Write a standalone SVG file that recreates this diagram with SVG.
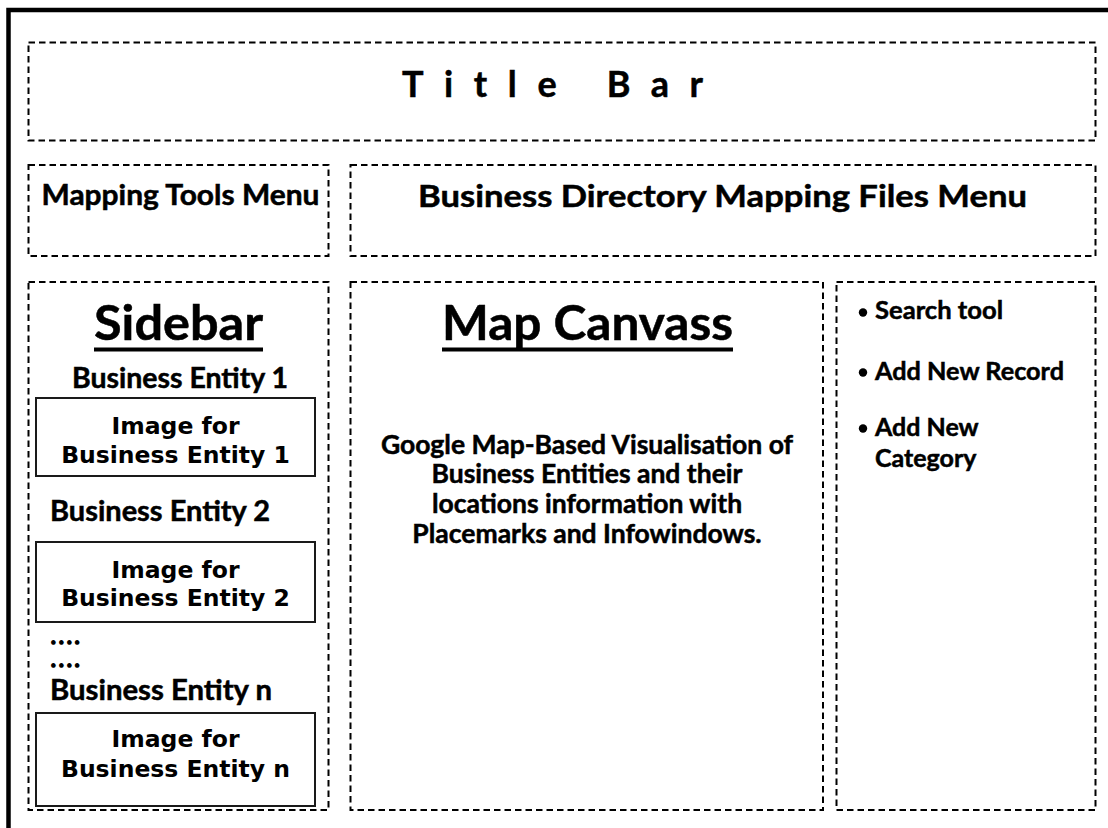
<svg xmlns="http://www.w3.org/2000/svg" width="1108" height="828" viewBox="0 0 1108 828">
  <style>
    .panel { fill: none; stroke: #000; stroke-width: 2; stroke-dasharray: 6.5 4; }
    .imgbox { fill: #fff; stroke: #1a1a1a; stroke-width: 2; }
    .frame { fill: none; stroke: #000; stroke-width: 4.5; }
    .cal { font-family: Lato, "Open Sans", "Liberation Sans", sans-serif; font-weight: bold; fill: #000; stroke: #000; stroke-width: 0.5; }
    .ver { font-family: "DejaVu Sans", Verdana, sans-serif; font-weight: bold; fill: #000; font-size: 23.5px; }
    .uline { stroke: #000; stroke-width: 4; }
    .dots { font-size: 20px; letter-spacing: 3.2px; stroke-width: 1.6; }
  </style>

  <rect width="1108" height="828" fill="#fff"/>

  <!-- outer page frame (top and left edges) -->
  <path class="frame" d="M 8.5 828 V 10 H 1108"/>

  <!-- title bar -->
  <g id="title-bar">
    <rect class="panel" x="28.5" y="42.5" width="1067" height="98"/>
    <text class="cal" x="402" y="97" font-size="36" stroke-width="0.9" textLength="301" lengthAdjust="spacing">Title Bar</text>
  </g>

  <!-- menus -->
  <g id="mapping-tools-menu">
    <rect class="panel" x="28.5" y="165" width="300" height="91"/>
    <text class="cal" x="41.5" y="205" font-size="28" textLength="278" lengthAdjust="spacingAndGlyphs">Mapping Tools Menu</text>
  </g>
  <g id="files-menu">
    <rect class="panel" x="350.5" y="165" width="745" height="91"/>
    <text class="cal" x="418" y="207" font-size="31" textLength="609" lengthAdjust="spacingAndGlyphs">Business Directory Mapping Files Menu</text>
  </g>

  <!-- sidebar -->
  <g id="sidebar">
    <rect class="panel" x="28.5" y="282" width="300" height="528"/>
    <text class="cal" x="94" y="340" font-size="48" textLength="169" lengthAdjust="spacingAndGlyphs">Sidebar</text>
    <line class="uline" x1="94" y1="349.5" x2="263" y2="349.5"/>

    <text class="cal" x="72" y="388" font-size="28" textLength="216" lengthAdjust="spacingAndGlyphs">Business Entity 1</text>
    <rect class="imgbox" x="36" y="398" width="279" height="78"/>
    <text class="ver" x="175.5" y="434" text-anchor="middle">Image for</text>
    <text class="ver" x="175.5" y="463" text-anchor="middle">Business Entity 1</text>

    <text class="cal" x="50" y="521" font-size="28" textLength="220" lengthAdjust="spacingAndGlyphs">Business Entity 2</text>
    <rect class="imgbox" x="36" y="542" width="279" height="80"/>
    <text class="ver" x="175.5" y="578" text-anchor="middle">Image for</text>
    <text class="ver" x="175.5" y="606" text-anchor="middle">Business Entity 2</text>

    <text class="cal dots" x="51" y="644">....</text>
    <text class="cal dots" x="51" y="667">....</text>

    <text class="cal" x="50" y="700" font-size="28" textLength="222" lengthAdjust="spacingAndGlyphs">Business Entity n</text>
    <rect class="imgbox" x="36" y="713" width="279" height="93"/>
    <text class="ver" x="175.5" y="747" text-anchor="middle">Image for</text>
    <text class="ver" x="175.5" y="777" text-anchor="middle">Business Entity n</text>
  </g>

  <!-- map canvas -->
  <g id="map-canvass">
    <rect class="panel" x="350.5" y="282" width="472.5" height="528"/>
    <text class="cal" x="442" y="340" font-size="48" textLength="291" lengthAdjust="spacingAndGlyphs">Map Canvass</text>
    <line class="uline" x1="442" y1="349.5" x2="733" y2="349.5"/>
    <g class="cal" font-size="26.5" text-anchor="middle">
      <text x="587" y="454">Google Map-Based Visualisation of</text>
      <text x="587" y="483">Business Entities and their</text>
      <text x="587" y="513">locations information with</text>
      <text x="587" y="543">Placemarks and Infowindows.</text>
    </g>
  </g>

  <!-- tool panel -->
  <g id="tool-panel">
    <rect class="panel" x="836.5" y="282" width="259" height="528"/>
    <circle cx="863" cy="312.5" r="4.2"/>
    <circle cx="863" cy="372.5" r="4.2"/>
    <circle cx="863" cy="428.5" r="4.2"/>
    <text class="cal" x="875" y="319" font-size="25" textLength="128" lengthAdjust="spacingAndGlyphs">Search tool</text>
    <text class="cal" x="875" y="380" font-size="25" textLength="189" lengthAdjust="spacingAndGlyphs">Add New Record</text>
    <text class="cal" x="875" y="436" font-size="25">Add New</text>
    <text class="cal" x="875" y="467" font-size="25">Category</text>
  </g>
</svg>
